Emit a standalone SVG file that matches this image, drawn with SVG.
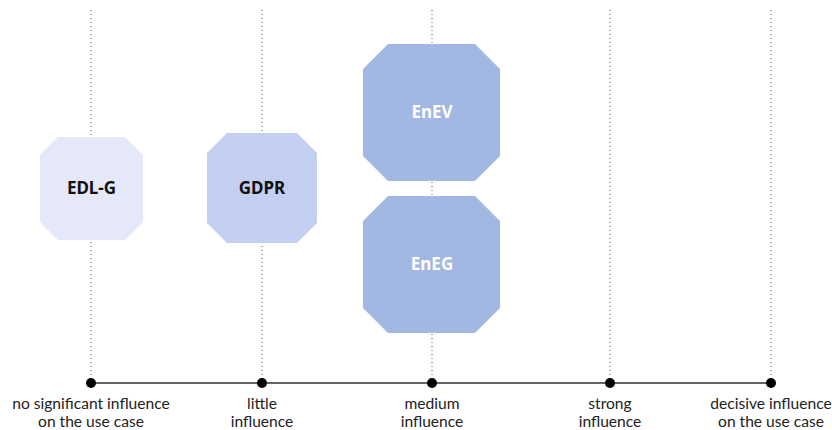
<svg xmlns="http://www.w3.org/2000/svg" width="832" height="430" viewBox="0 0 832 430">
<style>
.guide{stroke:#555;stroke-width:1;stroke-dasharray:1,3;fill:none}
.axis{stroke:#333;stroke-width:1.5}
.dot{fill:#000}
.lbl{font-family:Lato,"Noto Sans",sans-serif;font-size:15.6px;fill:#222;text-anchor:middle}
.nt{font-family:"Noto Sans","Open Sans",sans-serif;font-size:17px;font-weight:bold;text-anchor:middle}
</style>
<rect width="832" height="430" fill="#fff"/>
<g id="connectors">
<line class="guide" x1="91" y1="10" x2="91" y2="383"/>
<line class="guide" x1="262" y1="10" x2="262" y2="383"/>
<line class="guide" x1="432" y1="10" x2="432" y2="383"/>
<line class="guide" x1="610" y1="10" x2="610" y2="383"/>
<line class="guide" x1="771" y1="10" x2="771" y2="383"/>
<line class="axis" x1="91" y1="383" x2="771" y2="383"/>
</g>
<g id="axis-points">
<circle class="dot" cx="91" cy="383" r="5"/>
<circle class="dot" cx="262" cy="383" r="5"/>
<circle class="dot" cx="432" cy="383" r="5"/>
<circle class="dot" cx="610" cy="383" r="5"/>
<circle class="dot" cx="771" cy="383" r="5"/>
</g>
<g id="node-edlg">
<polygon points="58,137 125,137 143,155 143,222 125,240 58,240 40,222 40,155" fill="#e4e8f8"/>
<text class="nt" x="91.5" y="194" fill="#111">EDL-G</text>
</g>
<g id="node-gdpr">
<polygon points="227,133 297,133 317,153 317,223 297,243 227,243 207,223 207,153" fill="#c3cff0"/>
<text class="nt" x="262" y="194" fill="#111">GDPR</text>
</g>
<g id="node-enev">
<polygon points="388,44 475,44 500,69 500,156 475,181 388,181 363,156 363,69" fill="#a3b7e3"/>
<text class="nt" x="432" y="118" fill="#fff">EnEV</text>
</g>
<g id="node-eneg">
<polygon points="388,196 475,196 500,221 500,308 475,333 388,333 363,308 363,221" fill="#a3b7e3"/>
<text class="nt" x="432" y="270" fill="#fff">EnEG</text>
</g>
<g id="labels">
<text class="lbl" x="91" y="409">no significant influence</text>
<text class="lbl" x="91" y="427">on the use case</text>
<text class="lbl" x="262" y="409">little</text>
<text class="lbl" x="262" y="427">influence</text>
<text class="lbl" x="432" y="409">medium</text>
<text class="lbl" x="432" y="427">influence</text>
<text class="lbl" x="610" y="409">strong</text>
<text class="lbl" x="610" y="427">influence</text>
<text class="lbl" x="771" y="409">decisive influence</text>
<text class="lbl" x="771" y="427">on the use case</text>
</g>
</svg>
